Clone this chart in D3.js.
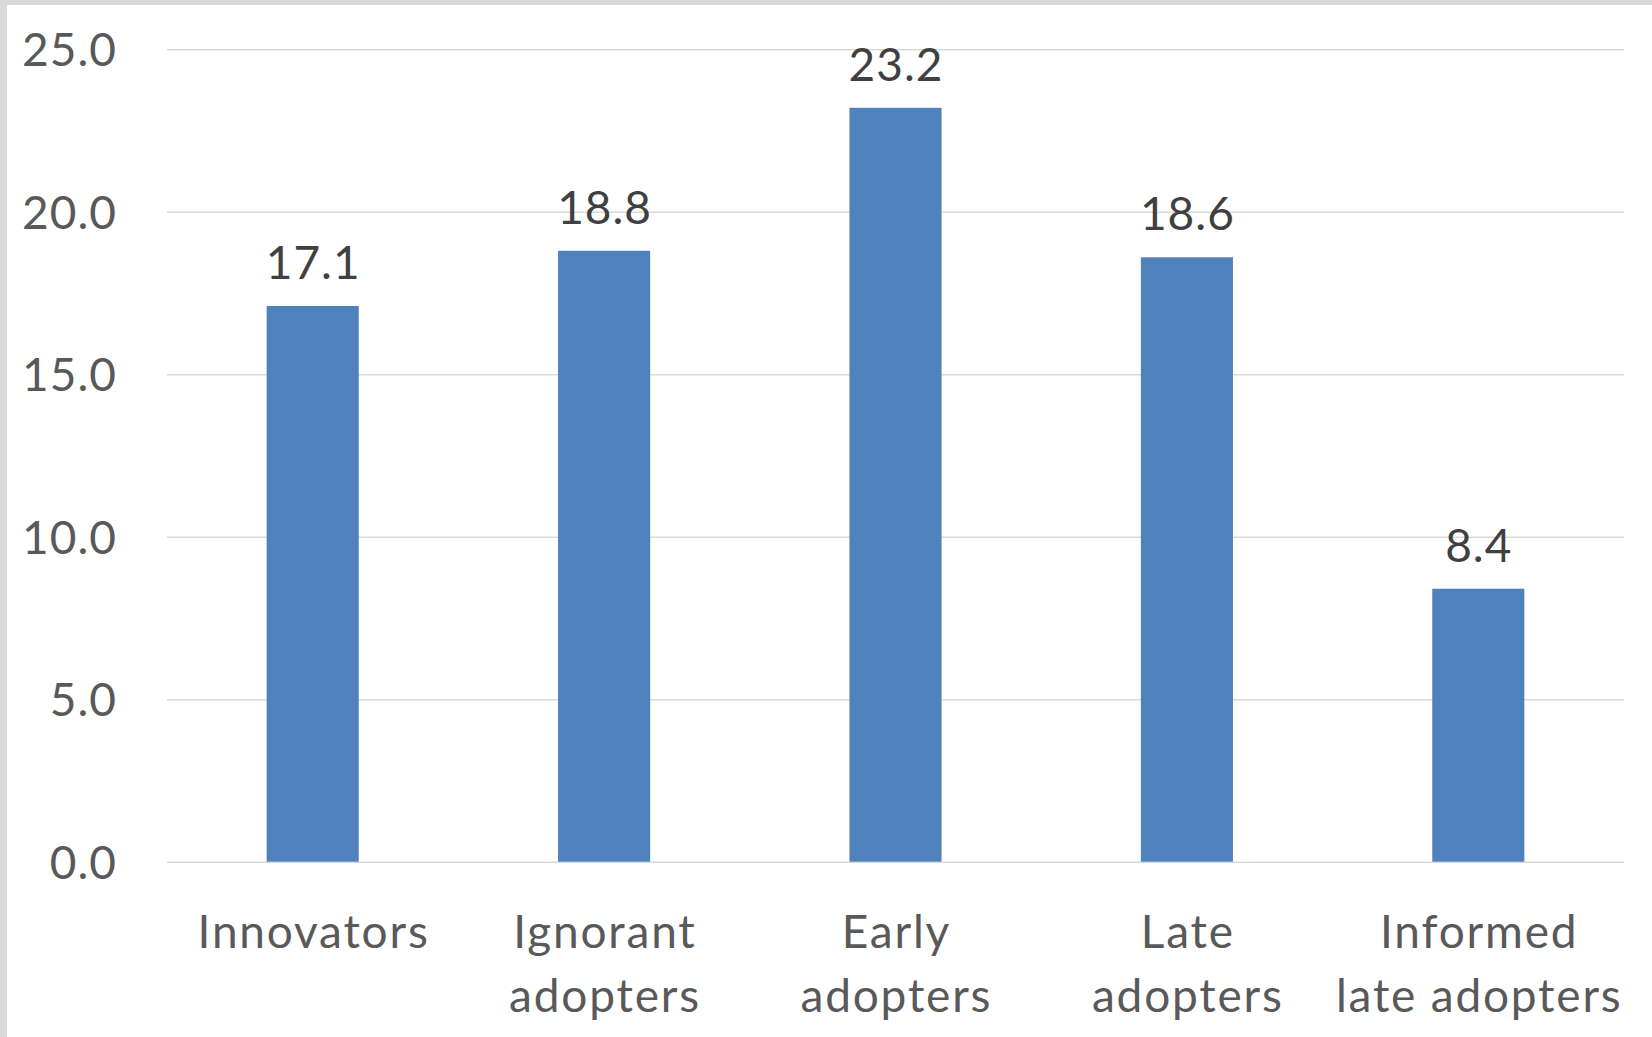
<!DOCTYPE html>
<html><head><meta charset="utf-8">
<script src="https://cdn.jsdelivr.net/npm/d3@7"></script>
<style>html,body{margin:0;padding:0;background:#fff;}svg{display:block;}</style>
</head><body>
<script>
const categories = [["Innovators"], ["Ignorant", "adopters"], ["Early", "adopters"], ["Late", "adopters"], ["Informed", "late adopters"]];
const values = [17.1, 18.8, 23.2, 18.6, 8.4];
const tickValues = [0, 5, 10, 15, 20, 25];

(function () {
const W = 1652, H = 1037;
const svg = d3.select("body").append("svg").attr("width", W).attr("height", H);
svg.append("rect").attr("width", W).attr("height", H).attr("fill", "#fff");
svg.append("rect").attr("x", 0).attr("y", 0).attr("width", 7).attr("height", H).attr("fill", "#d9d9d9");
svg.append("rect").attr("x", 0).attr("y", 0).attr("width", W).attr("height", 5).attr("fill", "#d9d9d9");

const pl = 167, pr = 1624, pt = 49.3, pb = 861.7;
const font = "Lato, 'Open Sans', sans-serif";
const x = d3.scaleBand().domain(d3.range(categories.length)).range([pl, pr]).paddingInner(0.684).paddingOuter(0.342);
const y = d3.scaleLinear().domain([0, 25]).range([pb, pt]);

const yAxis = d3.axisLeft(y).tickValues(tickValues).tickFormat(d3.format(".1f")).tickSize(-(pr - pl)).tickPadding(50);
const gy = svg.append("g").attr("transform", `translate(${pl},0)`).call(yAxis);
gy.select(".domain").remove();
gy.selectAll(".tick line").attr("stroke", "#d9d9d9").attr("stroke-width", 1.5);
gy.selectAll(".tick text").attr("fill", "#595959").attr("font-family", font).attr("font-size", 46).attr("dy", "0.36em").attr("letter-spacing", "1px");

svg.append("g").selectAll("rect").data(values).join("rect")
  .attr("x", (d, i) => x(i)).attr("width", x.bandwidth())
  .attr("y", d => y(d)).attr("height", d => y(0) - y(d))
  .attr("fill", "#4f81bd");

svg.append("g").selectAll("text").data(values).join("text")
  .attr("x", (d, i) => x(i) + x.bandwidth() / 2 + 0.5).attr("y", d => y(d) - 27)
  .attr("text-anchor", "middle").attr("font-family", font).attr("font-size", 46).attr("fill", "#404040")
  .attr("letter-spacing", "1px")
  .text(d => d3.format(".1f")(d));

const gx = svg.append("g");
categories.forEach((lines, i) => {
  const cx = x(i) + x.bandwidth() / 2 + 0.9;
  const t = gx.append("text").attr("x", cx).attr("y", 948)
    .attr("text-anchor", "middle").attr("font-family", font).attr("font-size", 46).attr("fill", "#595959")
    .attr("letter-spacing", "1.8px");
  lines.forEach((l, j) => t.append("tspan").attr("x", cx).attr("y", 948 + j * 64).text(l));
});
})();
</script>
</body></html>
